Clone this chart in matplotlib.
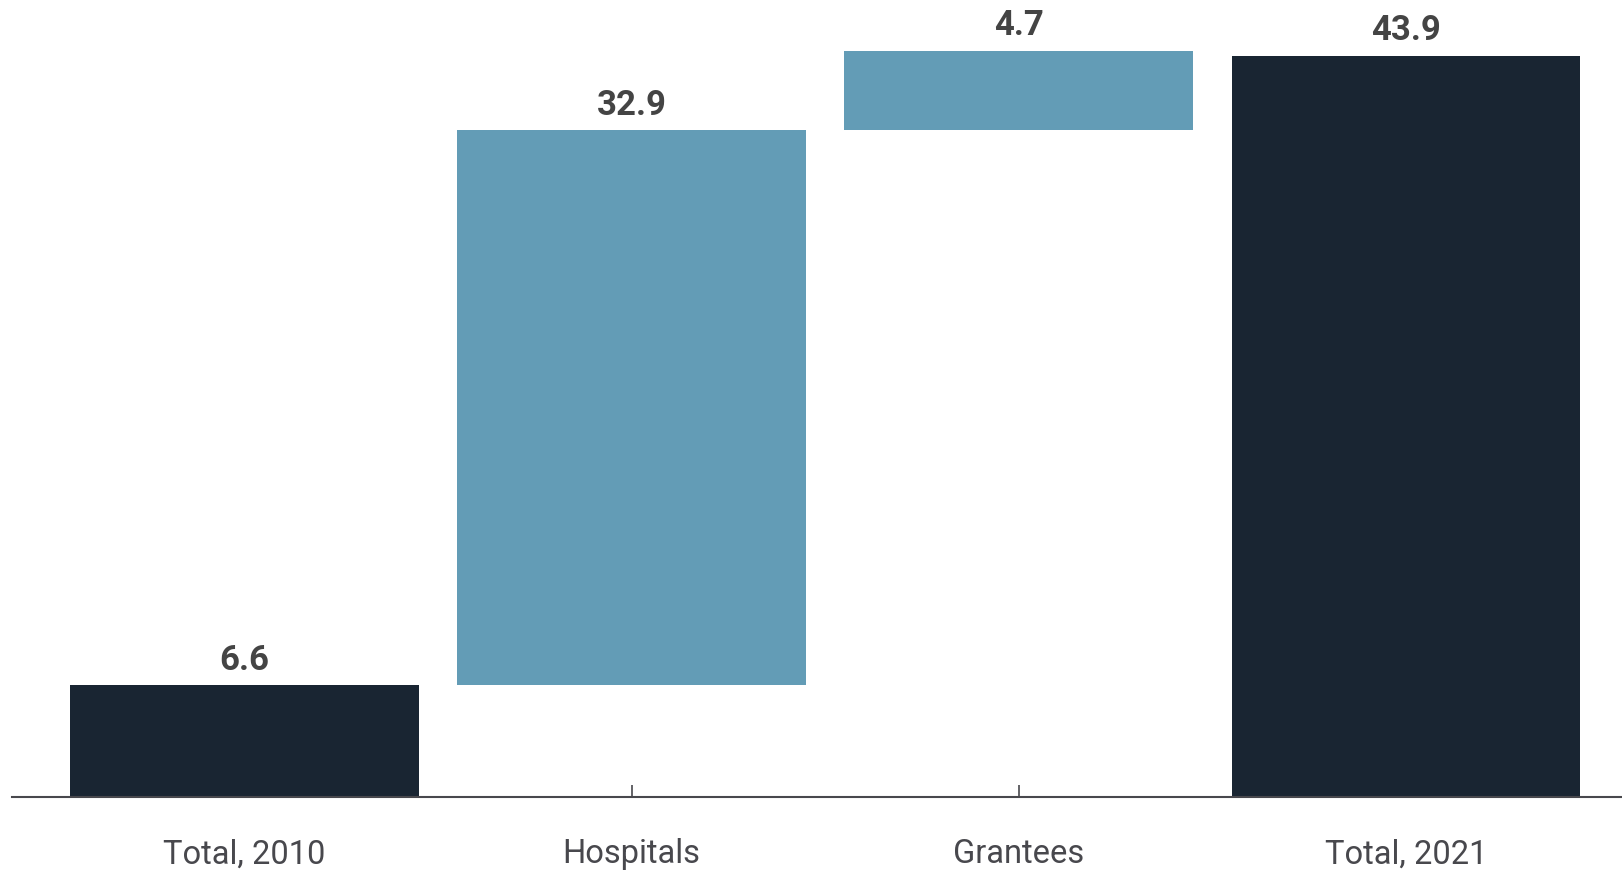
import matplotlib
matplotlib.use('Agg')
import matplotlib.pyplot as plt
import numpy as np

# waterfall data
categories = ['Total, 2010', 'Hospitals', 'Grantees', 'Total, 2021']
values = [6.6, 32.9, 4.7, 43.9]
is_total = [True, False, False, True]

NAVY = '#192532'
BLUE = '#639cb6'
GREY = '#48484d'
FONT = ['Roboto', 'DejaVu Sans']

# bottoms: totals start at 0, steps stack on the running sum
bottoms = []
running = 0.0
for v, tot in zip(values, is_total):
    if tot:
        bottoms.append(0.0)
        running = v
    else:
        bottoms.append(running)
        running += v

colors = [NAVY if t else BLUE for t in is_total]

fig = plt.figure(figsize=(16.22, 8.71), dpi=100)
ax = fig.add_axes([12 / 1622, 74.3 / 871, 1 - 12 / 1622, 796.7 / 871])

x = np.arange(len(categories))
ax.bar(x, values, bottom=bottoms, width=0.9, color=colors, zorder=2)

for xi, v, b in zip(x, values, bottoms):
    ax.annotate(f'{v:.1f}', (xi, b + v), xytext=(0, 6), textcoords='offset points',
                ha='center', va='bottom', fontsize=25, fontweight='bold',
                color='#444444', family=FONT)

ax.set_xlim(-0.6, 3.558)
ax.set_ylim(0, 47.2)
ax.set_axisbelow(True)

for s in ['top', 'right', 'left']:
    ax.spines[s].set_visible(False)
ax.spines['bottom'].set_color(GREY)
ax.spines['bottom'].set_linewidth(1.5)

ax.set_yticks([])
ax.set_xticks(x)
ax.set_xticklabels(categories, fontsize=23.5, color=GREY, family=FONT)
ax.tick_params(axis='x', direction='in', length=9, width=1.2, color=GREY, pad=30)

fig.savefig('out.png', dpi=100)
